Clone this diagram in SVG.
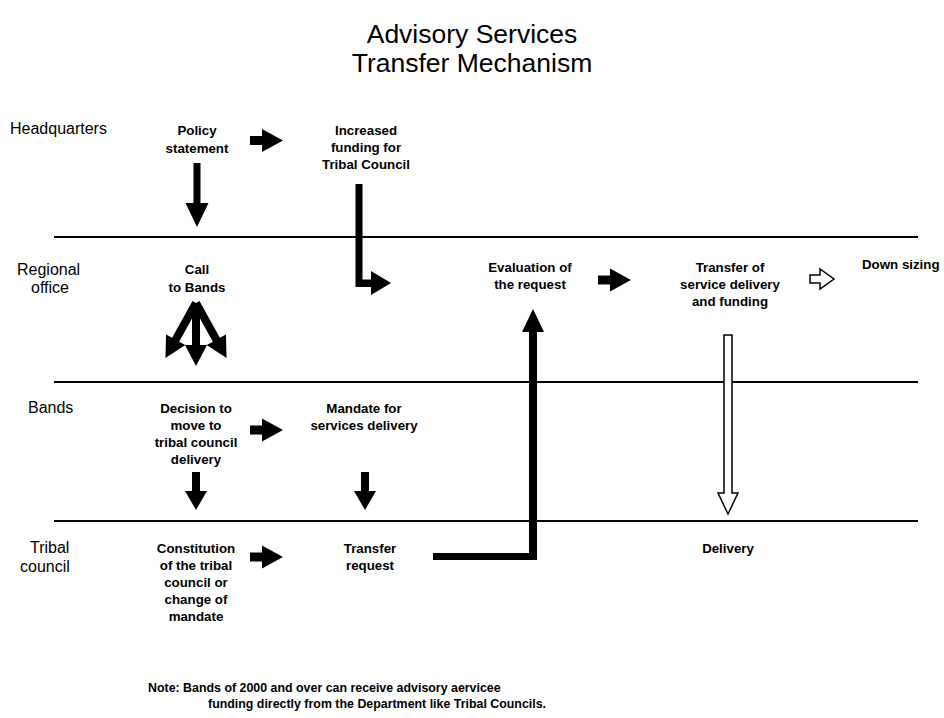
<svg xmlns="http://www.w3.org/2000/svg" xmlns:xlink="http://www.w3.org/1999/xlink" width="944" height="718" viewBox="0 0 944 718">
<style>
.title{font-family:"Liberation Sans",Arial,sans-serif;font-size:26.5px;fill:#000;text-anchor:middle}
.lane{font-family:"Liberation Sans",Arial,sans-serif;font-size:16px;fill:#000}
.node{font-family:"Liberation Sans",Arial,sans-serif;font-size:13.3px;font-weight:bold;fill:#000;text-anchor:middle}
.note{font-family:"Liberation Sans",Arial,sans-serif;font-size:12.4px;font-weight:bold;fill:#000}
.sep{stroke:#000;stroke-width:2;fill:none}
.solid{fill:#000;stroke:none}
.hollow{fill:#fff;stroke:#000;stroke-width:1.5}
</style>
<defs>
<path id="arr-r" d="M0,-4.5 H12 V-11.5 L33,0 L12,11.5 V4.5 H0 Z"/>
<path id="arr-d" d="M-4,0 H4 V19 H11 L0,38 L-11,19 H-4 Z"/>
<path id="arr-fan" d="M-4,0 H4 V42 H11 L0,63 L-11,42 H-4 Z"/>
</defs>
<rect width="944" height="718" fill="#fff"/>
<g id="title">
<text class="title" x="472" y="43">Advisory Services</text>
<text class="title" x="472" y="72">Transfer Mechanism</text>
</g>
<g id="lanes">
<line class="sep" x1="54" y1="237" x2="918" y2="237"/>
<line class="sep" x1="54" y1="382" x2="918" y2="382"/>
<line class="sep" x1="54" y1="521" x2="918" y2="521"/>
<text class="lane" x="10" y="134">Headquarters</text>
<text class="lane" x="17" y="275">Regional</text>
<text class="lane" x="31" y="293">office</text>
<text class="lane" x="28" y="413">Bands</text>
<text class="lane" x="30" y="553">Tribal</text>
<text class="lane" x="20" y="572">council</text>
</g>
<g id="policy-statement"><text class="node" x="197" y="135">Policy</text><text class="node" x="197" y="153">statement</text></g>
<g id="increased-funding"><text class="node" x="366" y="135">Increased</text><text class="node" x="366" y="152">funding for</text><text class="node" x="366" y="169">Tribal Council</text></g>
<g id="call-to-bands"><text class="node" x="197" y="274">Call</text><text class="node" x="197" y="292">to Bands</text></g>
<g id="evaluation"><text class="node" x="530" y="272">Evaluation of</text><text class="node" x="530" y="289">the request</text></g>
<g id="transfer-service"><text class="node" x="730" y="272">Transfer of</text><text class="node" x="730" y="289">service delivery</text><text class="node" x="730" y="306">and funding</text></g>
<g id="down-sizing"><text class="node" x="862" y="269" style="text-anchor:start">Down sizing</text></g>
<g id="decision"><text class="node" x="196" y="413">Decision to</text><text class="node" x="196" y="430">move to</text><text class="node" x="196" y="447">tribal council</text><text class="node" x="196" y="464">delivery</text></g>
<g id="mandate"><text class="node" x="364" y="413">Mandate for</text><text class="node" x="364" y="430">services delivery</text></g>
<g id="constitution"><text class="node" x="196" y="553">Constitution</text><text class="node" x="196" y="570">of the tribal</text><text class="node" x="196" y="587">council or</text><text class="node" x="196" y="604">change of</text><text class="node" x="196" y="621">mandate</text></g>
<g id="transfer-request"><text class="node" x="370" y="553">Transfer</text><text class="node" x="370" y="570">request</text></g>
<g id="delivery"><text class="node" x="728" y="553">Delivery</text></g>
<g id="note">
<text class="note" x="148" y="692">Note: Bands of 2000 and over can receive advisory aervicee</text>
<text class="note" x="208" y="708">funding directly from the Department like Tribal Councils.</text>
</g>
<g id="connectors">
<use xlink:href="#arr-r" href="#arr-r" class="solid" x="250" y="140.5"/>
<path class="solid" d="M193.5,163 H200.5 V203 H208.5 L197,227 L185.5,203 H193.5 Z"/>
<path class="solid" d="M355.5,184 H362.5 V279.5 H371 V271 L391,283 L371,295 V287 H355.5 Z"/>
<use xlink:href="#arr-fan" href="#arr-fan" class="solid" transform="translate(196,303) rotate(29)"/>
<use xlink:href="#arr-fan" href="#arr-fan" class="solid" transform="translate(196,303) rotate(-29)"/>
<use xlink:href="#arr-fan" href="#arr-fan" class="solid" transform="translate(196,303)"/>
<use xlink:href="#arr-r" href="#arr-r" class="solid" x="598" y="280"/>
<path class="hollow" d="M810,275 H820 V269 L834,279 L820,289 V283 H810 Z"/>
<path class="hollow" d="M724,335 H732 V493 H738 L728,514 L718,493 H724 Z"/>
<use xlink:href="#arr-r" href="#arr-r" class="solid" x="250" y="430"/>
<use xlink:href="#arr-d" href="#arr-d" class="solid" x="196" y="472"/>
<use xlink:href="#arr-d" href="#arr-d" class="solid" x="365" y="472"/>
<use xlink:href="#arr-r" href="#arr-r" class="solid" x="250" y="557"/>
<path class="solid" d="M433,553 H529 V332 H522 L533,309 L544,332 H537 V560 H433 Z"/>
</g>
</svg>
